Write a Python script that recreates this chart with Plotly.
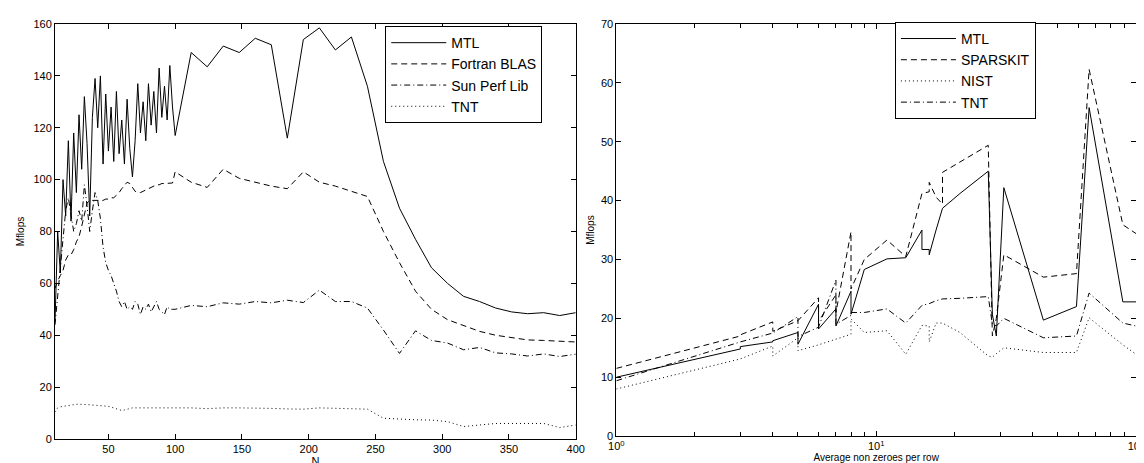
import plotly.graph_objects as go

# left panel: dense matrix-vector, Mflops vs N
n_size = [10, 12, 14, 16, 18, 20, 22, 24, 26, 28, 30, 32, 34, 36, 38, 40, 42, 44, 46, 48,
          50, 52, 54, 56, 58, 60, 62, 64, 66, 68, 70, 72, 74, 76, 78, 80, 82, 84, 86, 88,
          90, 92, 94, 96, 98, 100,
          112, 124, 136, 148, 160, 172, 184, 196, 208, 220, 232, 244, 256, 268, 280, 292,
          304, 316, 328, 340, 352, 364, 376, 388, 400]
mtl_dense = [45, 80, 64, 100, 86, 115, 84, 118, 95, 125, 104, 132, 114, 86, 124, 139, 120, 140,
             106, 133, 111, 128, 107, 134, 110, 123, 106, 131, 112, 101, 115, 137, 118, 130,
             115, 137, 121, 134, 118, 143, 124, 136, 123, 144, 128, 117,
             149, 143.5, 151.5, 149, 154.5, 152, 116, 154, 158.5, 150, 155, 136, 107, 89,
             77, 66, 60, 55, 53, 50.5, 49, 48.3, 48.7, 47.6, 48.7]
fortran_blas = [58, 61, 63, 65, 69, 71, 71, 73, 76, 78, 82, 86, 91, 92, 92, 92, 92, 92, 92,
                92.5, 92.5, 93, 93, 94, 95, 96.5, 98, 99, 98.5, 97, 95.5, 95, 95, 95.5, 96,
                96.5, 97, 97.5, 98, 98, 98.5, 98.5, 98.5, 98.7, 98.7, 103,
                99, 97, 104, 100.5, 99, 97.5, 96.5, 103, 99, 97.5, 95.5, 93.5, 80, 68, 57,
                50, 46, 43.6, 41.5, 40, 39, 38.2, 38, 37.8, 37.4]
sun_perf = [44, 55, 65, 75, 88, 93, 86, 80, 83, 88, 84, 98, 90, 80, 88, 95, 92, 85, 74, 68,
            65, 63, 60, 57, 53, 51, 53, 50, 51, 50, 53, 52, 48, 51, 50, 52, 49, 51, 53, 50,
            49, 48, 51, 50, 50, 50,
            51.5, 51, 52.5, 52, 53, 52.5, 53.5, 52.6, 57.4, 53, 53, 50.5, 42, 33, 41.7, 38,
            37, 34.4, 35.3, 33.2, 32.8, 32, 32.8, 31.8, 32.7]
tnt_dense = [10.5, 12, 12.4, 12.6, 12.8, 13, 13.2, 13.3, 13.4, 13.4, 13.4, 13.4, 13.3, 13.2,
             13.1, 13, 13, 12.9, 12.9, 12.8, 12.6, 12.3, 12, 11.6, 11.2, 11, 11.2, 11.5, 11.8,
             12, 12, 12, 12, 12.1, 12.1, 12.2, 12.2, 12.2, 12.1, 12.1, 12, 12, 12.1, 12.2,
             12.2, 12.2,
             12, 11.7, 12, 12, 12, 11.8, 11.6, 11.5, 12, 11.8, 11.6, 11.5, 8, 7.6, 7.4, 7.3,
             6.7, 4.8, 5.5, 6, 6, 6, 6, 4.4, 5.4]

# right panel: sparse matrix-vector, Mflops vs average non zeroes per row
nnz_row = [1, 3, 3, 4, 4, 5, 5, 6, 6, 7, 7, 8, 8, 9, 11, 13, 15, 15, 16, 16, 17, 18, 18,
           21, 27, 28, 29, 31, 44, 59, 66, 89, 100]
mtl_sparse = [10, 14.8, 15.2, 16, 16.2, 17.6, 15.6, 22.4, 18.2, 21.6, 18.7, 24.6, 20.7, 28.3,
              30.1, 30.3, 35, 31.7, 31.7, 30.8, 35, 38.7, 38.7, 41.2, 45, 20.7, 17, 42.2,
              19.7, 22, 55.8, 22.8, 22.8]
sparskit = [11.5, 17, 17.2, 19.4, 17.8, 19.6, 19.6, 23.5, 19.5, 24, 21, 34.7, 25, 30, 33.3,
            30.5, 41.2, 41.2, 41.5, 43.1, 40.6, 39.4, 44.8, 46.5, 49.4, 17, 20, 30.8, 27,
            27.6, 62.3, 35.9, 34.4]
nist = [8, 13.1, 13.1, 15.3, 13.6, 16.7, 14.5, 15.5, 15.5, 16.5, 16.5, 17.3, 19.9, 17.6,
        17.9, 13.9, 18.8, 18.8, 18.7, 16, 19.2, 19.2, 19.2, 17.6, 13.6, 13.4, 14, 15, 14.2,
        14.2, 20.1, 15.5, 13.9]
tnt_sparse = [9.4, 16, 16, 17.5, 17.5, 20.3, 16.9, 18.5, 18.5, 26.5, 19, 20.5, 21, 21, 21.6,
              19.2, 22.2, 22.2, 22.5, 22.5, 23, 23.3, 23.3, 23.4, 23.7, 19, 18.7, 20, 16.7,
              17, 24.3, 19.2, 18.7]

FONT = "Liberation Sans, Arial, sans-serif"
DASH = "6px,4px"
DOT = "1px,3px"
DASHDOT = "6px,3px,1px,3px"

fig = go.Figure()

left = [("MTL", mtl_dense, "solid"), ("Fortran BLAS", fortran_blas, DASH),
        ("Sun Perf Lib", sun_perf, DASHDOT), ("TNT", tnt_dense, DOT)]
for name, vals, dash in left:
    fig.add_trace(go.Scatter(x=n_size, y=vals, mode="lines", name=name,
                             line=dict(color="black", width=1, dash=dash),
                             xaxis="x", yaxis="y", legend="legend"))

right = [("MTL", mtl_sparse, "solid"), ("SPARSKIT", sparskit, DASH),
         ("NIST", nist, DOT), ("TNT", tnt_sparse, DASHDOT)]
for name, vals, dash in right:
    fig.add_trace(go.Scatter(x=nnz_row, y=vals, mode="lines", name=name,
                             line=dict(color="black", width=1, dash=dash),
                             xaxis="x2", yaxis="y2", legend="legend2"))

axis_style = dict(showline=True, linecolor="black", linewidth=1, mirror="ticks",
                  ticks="inside", ticklen=5, tickcolor="black", showgrid=False,
                  zeroline=False, tickfont=dict(size=11, color="black"))

legend_style = dict(bgcolor="white", bordercolor="black", borderwidth=1,
                    font=dict(size=14, color="black", family=FONT),
                    itemwidth=55, tracegroupgap=0, xanchor="left", yanchor="top")

fig.update_layout(
    width=1144, height=463,
    margin=dict(l=47, r=7, t=16, b=29),
    paper_bgcolor="white", plot_bgcolor="white",
    font=dict(family=FONT, color="black"),
    xaxis=dict(domain=[0, 0.4817], range=[10, 400], dtick=50, tick0=0,
               title=dict(text="N", font=dict(size=11), standoff=1), **axis_style),
    yaxis=dict(range=[0, 160], dtick=20,
               title=dict(text="Mflops", font=dict(size=10), standoff=6), **axis_style),
    xaxis2=dict(domain=[0.5193, 1], type="log", range=[0, 2], anchor="y2",
                tickvals=[1, 10, 100],
                ticktext=["10<sup>0</sup>", "10<sup>1</sup>", "10<sup>2</sup>"],
                minor=dict(ticks="inside", ticklen=4, tickcolor="black",
                           tickvals=[2, 3, 4, 5, 6, 7, 8, 9, 20, 30, 40, 50, 60, 70, 80, 90]),
                title=dict(text="Average non zeroes per row", font=dict(size=10), standoff=1),
                **axis_style),
    yaxis2=dict(domain=[0.007, 1], range=[0, 70], dtick=10, anchor="x2",
                title=dict(text="Mflops", font=dict(size=10), standoff=4), **axis_style),
    legend=dict(x=0.3055, y=0.995, **legend_style),
    legend2=dict(x=0.7770, y=1.005, **legend_style),
)

fig.write_html("out.html")
